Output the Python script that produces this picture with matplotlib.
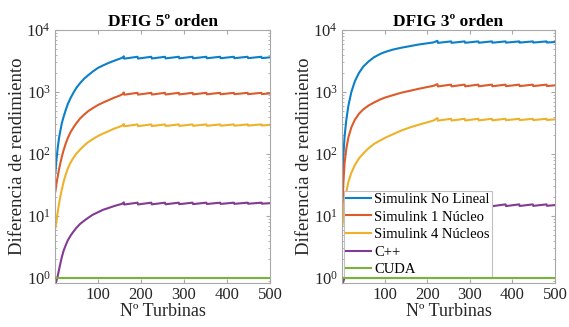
import matplotlib
matplotlib.use("Agg")
import matplotlib.pyplot as plt
from matplotlib.ticker import LogLocator, NullFormatter

plt.rcParams['font.family'] = ['Liberation Serif', 'DejaVu Serif']
plt.rcParams['mathtext.fontset'] = 'stix'

# ---------------- data ----------------
titles = ["DFIG 5º orden", "DFIG 3º orden"]
series_labels = ["Simulink No Lineal", "Simulink 1 Núcleo", "Simulink 4 Núcleos", "C++", "CUDA"]
xlabel = "Nº Turbinas"
ylabel = "Diferencia de rendimiento"
xticks = [100, 200, 300, 400, 500]

# DFIG 5th order
n_5 = [1, 3, 6, 9, 12, 16, 20, 25, 30, 36, 43, 50, 58, 67, 77, 88, 100, 112, 125, 138, 150, 157,
       160, 161, 192, 193, 224, 225, 256, 257, 288, 289, 320, 321, 352, 353,
       384, 385, 416, 417, 448, 449, 480, 481, 500]
nolineal_5 = [50, 76, 120, 174, 229, 316, 398, 513, 646, 794, 977, 1175, 1380, 1620, 1860, 2140,
              2450, 2690, 2950, 3200, 3430, 3590,
              3760, 3450, 3700, 3460, 3700, 3470, 3700, 3480, 3700, 3490, 3700, 3495, 3700, 3500,
              3700, 3505, 3700, 3510, 3700, 3515, 3700, 3520, 3620]
nucleo1_5 = [25, 32, 42, 55, 69, 91, 115, 148, 182, 224, 269, 316, 372, 427, 490, 550,
             617, 676, 741, 813, 871, 923,
             985, 905, 970, 907, 970, 909, 970, 911, 970, 913, 970, 915, 970, 917,
             970, 919, 970, 921, 970, 923, 970, 925, 950]
nucleo4_5 = [6.5, 7.9, 11.2, 15.1, 20, 26.9, 35.5, 46.8, 58.9, 72.4, 87.1, 102, 117, 135, 155, 174,
             195, 214, 234, 257, 275, 288,
             305, 280, 300, 281, 300, 282, 300, 283, 300, 284, 300, 285, 300, 285,
             300, 286, 300, 286, 300, 287, 300, 288, 295]
cpp_5 = [0.79, 0.89, 1.05, 1.32, 1.66, 2.19, 2.75, 3.39, 4.07, 4.79, 5.62, 6.46, 7.41, 8.32, 9.33, 10.5,
         11.5, 12.6, 13.5, 14.5, 15.3, 15.8,
         16.6, 15.3, 16.4, 15.35, 16.4, 15.4, 16.4, 15.45, 16.4, 15.5, 16.4, 15.55, 16.4, 15.6,
         16.4, 15.65, 16.4, 15.7, 16.4, 15.75, 16.4, 15.8, 16.1]
n_cuda = [1, 500]
cuda_5 = [1.0, 1.0]

# DFIG 3rd order
n_3 = [1, 3, 6, 10, 15, 22, 30, 40, 50, 62, 75, 90, 101, 120, 140, 160, 179, 200, 215,
       224, 225, 256, 257, 288, 289, 320, 321, 352, 353, 384, 385, 416, 417,
       448, 449, 480, 481, 500]
nolineal_3 = [35, 89, 190, 347, 603, 1000, 1480, 2040, 2570, 3090, 3630, 4120, 4420, 4840, 5190,
              5500, 5820, 6100, 6310,
              6700, 6200, 6550, 6210, 6550, 6220, 6550, 6230, 6550, 6240, 6550, 6250, 6550, 6260,
              6550, 6270, 6550, 6280, 6400]
nucleo1_3 = [12, 32, 71, 120, 186, 269, 355, 447, 525, 603, 676, 759, 813, 891, 977,
             1047, 1122, 1202, 1259,
             1340, 1230, 1315, 1232, 1315, 1234, 1315, 1236, 1315, 1238, 1315, 1240, 1315, 1242,
             1315, 1244, 1315, 1246, 1280]
nucleo4_3 = [7.1, 10, 15.8, 24, 35.5, 50, 66, 85, 102, 123, 145, 166, 182, 209, 240,
             269, 295, 324, 347,
             380, 345, 370, 346, 370, 347, 370, 348, 370, 349, 370, 350, 370, 351,
             370, 352, 370, 353, 362]
cpp_3 = [0.8, 0.88, 1.0, 1.25, 1.6, 2.0, 2.5, 3.1, 3.7, 4.5, 5.3, 6.2, 6.8, 7.9, 9.0,
         10.2, 11.4, 12.7, 13.8,
         15.6, 14.2, 15.4, 14.25, 15.4, 14.3, 15.4, 14.35, 15.4, 14.4, 15.4, 14.45, 15.4, 14.5,
         15.4, 14.55, 15.4, 14.6, 15.0]
cuda_3 = [1.0, 1.0]

colors = ["#0b80c8", "#dd5a2a", "#eeb22a", "#833a94", "#78b43a"]

# ---------------- figure ----------------
fig = plt.figure(figsize=(5.69, 3.27), dpi=100)
ax1 = fig.add_axes([55/569, 44/327, 215/569, 253/327])
ax2 = fig.add_axes([342/569, 44/327, 213/569, 253/327])

panels = [
    (ax1, n_5, [nolineal_5, nucleo1_5, nucleo4_5, cpp_5], cuda_5, titles[0]),
    (ax2, n_3, [nolineal_3, nucleo1_3, nucleo4_3, cpp_3], cuda_3, titles[1]),
]

spine_col = "#a8a8a8"
for ax, n, ys, cuda, title in panels:
    for y, c, lab in zip(ys, colors[:4], series_labels[:4]):
        ax.plot(n, y, color=c, lw=1.5, label=lab)
    ax.plot(n_cuda, cuda, color=colors[4], lw=1.5, label=series_labels[4], zorder=6)
    ax.set_yscale('log')
    ax.set_xlim(0, 500)
    ax.set_ylim(0.83, 1e4)
    ax.set_xticks(xticks)
    ax.set_yticks([1, 10, 100, 1000, 10000])
    ax.yaxis.set_minor_locator(LogLocator(base=10, subs=range(2, 10)))
    ax.yaxis.set_minor_formatter(NullFormatter())
    ax.tick_params(which='both', direction='in', top=True, right=True,
                   color=spine_col, labelsize=12, labelcolor='#262626')
    ax.tick_params(which='major', length=3, pad=3)
    ax.tick_params(which='minor', length=1.6)
    for s in ax.spines.values():
        s.set_color(spine_col)
        s.set_linewidth(0.8)
    ax.set_title(title, fontsize=12.5, fontweight='bold', pad=3)
    ax.set_xlabel(xlabel, fontsize=13, labelpad=0, color='#262626')
    ax.set_ylabel(ylabel, fontsize=13.5, labelpad=0, color='#262626')

leg = ax2.legend(loc='lower left', bbox_to_anchor=(0.01, 0.018), fontsize=10.5,
                 frameon=True, fancybox=False, framealpha=1, edgecolor='#c0c0c0',
                 handlelength=1.7, handletextpad=0.2, labelspacing=0.3,
                 borderpad=0.15, borderaxespad=0.0)
leg.get_frame().set_linewidth(0.8)

fig.savefig("out.png", dpi=100)
